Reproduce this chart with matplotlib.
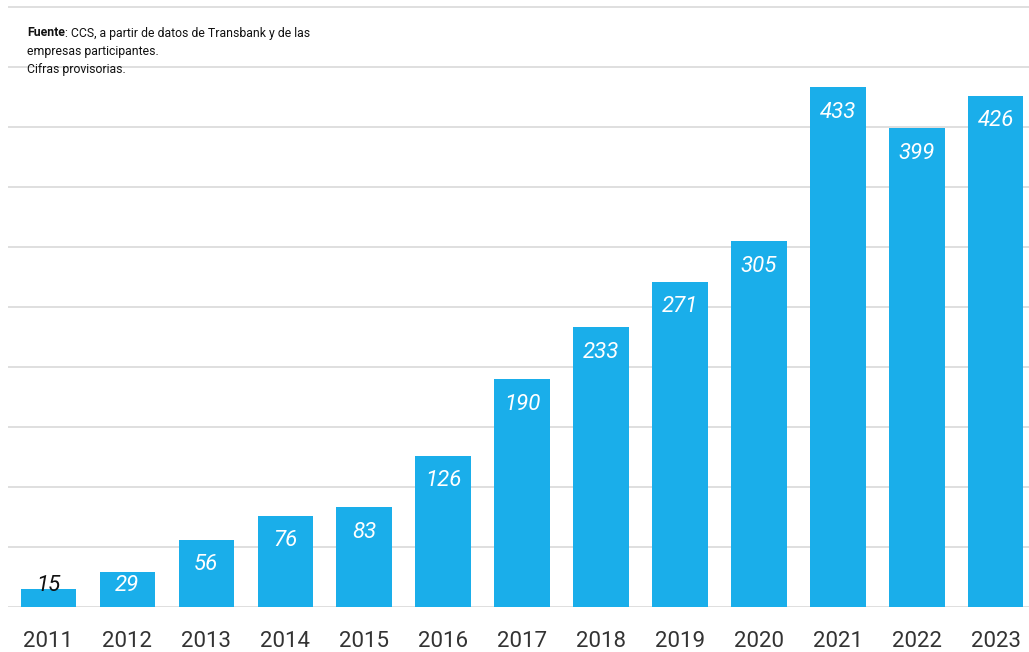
import matplotlib
matplotlib.use("Agg")
import matplotlib.pyplot as plt

years = ["2011", "2012", "2013", "2014", "2015", "2016", "2017",
         "2018", "2019", "2020", "2021", "2022", "2023"]
values = [15, 29, 56, 76, 83, 126, 190, 233, 271, 305, 433, 399, 426]

fam = "Roboto"

fig = plt.figure(figsize=(10.29, 6.52), dpi=100)
ax = fig.add_axes([8/1029, 1-607/652, 1-8/1029, 606/652])
x = list(range(len(years)))
ax.bar(x, values, width=0.7, color="#1aaeea", zorder=2)
ax.set_xlim(-0.51, 12.42)
ax.set_ylim(0, 505)
ax.set_yticks(range(0, 501, 50))
ax.yaxis.grid(True, color="#d9d9d9", linewidth=1.2, zorder=0)
ax.set_axisbelow(True)
for s in ax.spines.values():
    s.set_visible(False)
ax.tick_params(axis="y", left=False, labelleft=False)
ax.tick_params(axis="x", length=0, pad=17)
ax.set_xticks(x)
ax.set_xticklabels(years, fontsize=16, color="#333333", family=fam)

for xi, v in zip(x, values):
    ypos = max(v - 21, 18)
    col = "white" if ypos < v - 8 else "#111111"
    ax.text(xi, ypos, str(v), ha="center", va="center", fontsize=16,
            style="italic", color=col, family=fam, zorder=3)

x0, y0 = 27/1029, 1 - 33/652
fs = 8.8
t1 = fig.text(x0, y0, "Fuente", fontsize=fs, weight="bold", color="#111111",
              family=fam, va="center")
r = fig.canvas.get_renderer()
bb = t1.get_window_extent(renderer=r)
fig.text(bb.x1 / fig.bbox.width, y0, ": CCS, a partir de datos de Transbank y de las",
         fontsize=fs, color="#111111", family=fam, va="center")
fig.text(x0, 1 - 52/652, "empresas participantes.", fontsize=fs, color="#111111",
         family=fam, va="center")
fig.text(x0, 1 - 70/652, "Cifras provisorias.", fontsize=fs, color="#111111",
         family=fam, va="center")
fig.savefig("out.png", dpi=100)
